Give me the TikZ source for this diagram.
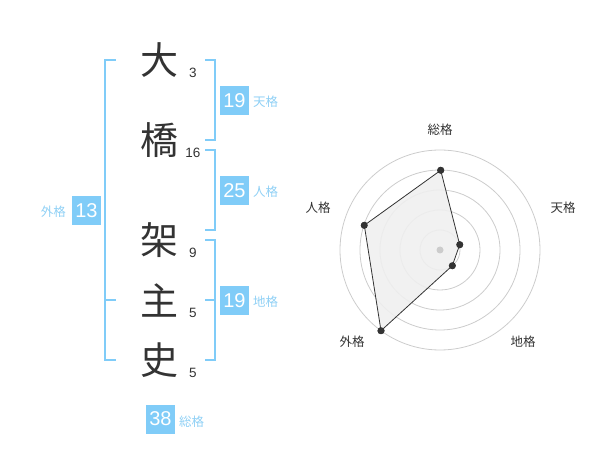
\documentclass[tikz,border=0pt]{standalone}
\usepackage{fontspec}
\setmainfont{Liberation Sans}
\newfontfamily\jp{Noto Sans CJK JP}
\definecolor{skyb}{HTML}{80CCF8}
\definecolor{lblb}{HTML}{8FD0F5}
\definecolor{ink}{HTML}{333333}
\definecolor{ringc}{HTML}{CCCCCC}
\begin{document}
\begin{tikzpicture}[x=1pt,y=-1pt,
  kanji/.style={font=\jp\fontsize{38}{38}\selectfont, text=ink, inner sep=0pt},
  strk/.style={font=\fontsize{13.5}{14}\selectfont, text=ink, inner sep=0pt},
  valbox/.style={fill=skyb, text=white, minimum width=29pt, minimum height=29pt, inner sep=0pt, font=\fontsize{20}{20}\selectfont},
  lbl/.style={font=\jp\fontsize{12.5}{13}\selectfont, text=lblb, inner sep=0pt},
  brk/.style={draw=skyb, line width=2pt},
  ring/.style={draw=ringc, line width=0.8pt},
  rlbl/.style={font=\jp\fontsize{12.5}{13}\selectfont, text=ink, inner sep=0pt},
  dot/.style={circle, fill=ink, inner sep=0pt, minimum size=7pt}
]
\useasboundingbox (0,0) rectangle (600,470);
% kanji
\node[kanji] (k1) at (159,60) {大};
\node[kanji] (k2) at (159,140) {橋};
\node[kanji] (k3) at (159,240) {架};
\node[kanji] (k4) at (159,300) {主};
\node[kanji] (k5) at (159,360) {史};
% stroke counts
\node[strk] (s1) at (193,72.5) {3};
\node[strk] (s2) at (193,153) {16};
\node[strk] (s3) at (193,252.5) {9};
\node[strk] (s4) at (193,312.5) {5};
\node[strk] (s5) at (193,372.5) {5};
% brackets
\coordinate (L1) at (115.5,60); \coordinate (L2) at (115.5,360); \coordinate (Lm) at (115.5,300);
\draw[brk] (L1) -- (105,60) -- (105,360) -- (L2);
\draw[brk] (105,300) -- (Lm);
\coordinate (T1) at (205,60); \coordinate (T2) at (205,140);
\draw[brk] (T1) -- (215,60) -- (215,140) -- (T2);
\coordinate (J1) at (205,150); \coordinate (J2) at (205,230);
\draw[brk] (J1) -- (215,150) -- (215,230) -- (J2);
\coordinate (C1) at (205,240); \coordinate (C2) at (205,360); \coordinate (Cm) at (205,300);
\draw[brk] (C1) -- (215,240) -- (215,360) -- (C2);
\draw[brk] (215,300) -- (Cm);
% value boxes
\node[valbox] (b1) at (234.5,100.5) {19};
\node[lbl, anchor=west] (l1) at (253,102) {天格};
\node[valbox] (b2) at (234.5,190.5) {25};
\node[lbl, anchor=west] (l2) at (253,192) {人格};
\node[valbox] (b3) at (234.5,300.5) {19};
\node[lbl, anchor=west] (l3) at (253,302) {地格};
\node[valbox] (b4) at (86.5,210.5) {13};
\node[lbl, anchor=east] (l4) at (66,212) {外格};
\node[valbox] (b5) at (160.5,419) {38};
\node[lbl, anchor=west] (l5) at (179,422) {総格};
% radar
\coordinate (O) at (440,250);
\foreach \r in {20,40,60,80,100} \draw[ring] (O) circle[radius=\r];
\node[dot] (p1) at (440.7,170.3) {};
\node[dot] (p2) at (459.7,244.7) {};
\node[dot] (p3) at (452.3,265.7) {};
\node[dot] (p4) at (381,330.7) {};
\node[dot] (p5) at (364.3,225.3) {};
\fill[ink!8, opacity=0.9] (p1.center) -- (p2.center) -- (p3.center) -- (p4.center) -- (p5.center) -- cycle;
\draw[ink, line width=0.8pt] (p1.center) -- (p2.center) -- (p3.center) -- (p4.center) -- (p5.center) -- cycle;
\foreach \p in {p1,p2,p3,p4,p5} \fill[ink] (\p) circle[radius=3.5];
\fill[ringc] (O) circle[radius=3.5];
\node[rlbl] (a1) at (440,130) {総格};
\node[rlbl] (a2) at (563,208) {天格};
\node[rlbl] (a3) at (523,342) {地格};
\node[rlbl] (a4) at (352,342) {外格};
\node[rlbl] (a5) at (318,208) {人格};
\end{tikzpicture}
\end{document}
